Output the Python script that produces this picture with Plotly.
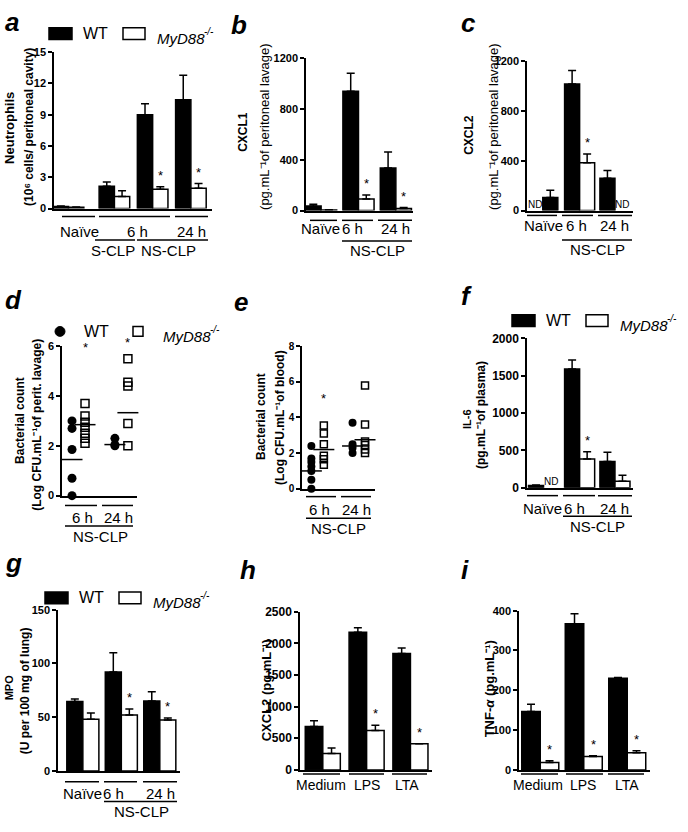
import plotly.graph_objects as go

W, H = 688, 832
FONT = "Liberation Sans, Arial, Helvetica, sans-serif"


def px(x):
    return x / W


def py(y):
    return 1 - y / H


# ---------------- data ----------------
# (a) neutrophils (10^6 cells / peritoneal cavity)
a_cats = ["Naïve", "S-CLP 6 h", "NS-CLP 6 h", "NS-CLP 24 h"]
a_wt = [0.2, 2.15, 9.0, 10.45]
a_wt_err = [0.05, 0.4, 1.05, 2.35]
a_ko = [0.12, 1.15, 1.85, 1.95]
a_ko_err = [0.03, 0.55, 0.25, 0.45]
a_sig = [False, False, True, True]

# (b) CXCL1, peritoneal lavage
b_cats = ["Naïve", "NS-CLP 6 h", "NS-CLP 24 h"]
b_wt = [35, 940, 335]
b_wt_err = [15, 140, 125]
b_ko = [5, 90, 15]
b_ko_err = [2, 32, 8]
b_sig = [False, True, True]

# (c) CXCL2, peritoneal lavage (ND = not detected)
c_cats = ["Naïve", "NS-CLP 6 h", "NS-CLP 24 h"]
c_wt = [None, 1015, 260]
c_wt_err = [0, 110, 62]
c_ko = [105, 383, None]
c_ko_err = [58, 70, 0]
c_sig = [False, True, False]
c_nd_wt = [True, False, False]
c_nd_ko = [False, False, True]

# (d) bacterial count, peritoneal lavage (log CFU/mL)
d_cats = ["6 h", "24 h"]
d_wt = [[3.0, 2.7, 1.85, 0.7, 0.0], [2.3, 2.05, 2.0]]
d_ko = [[3.7, 3.2, 2.95, 2.75, 2.5, 2.3, 2.1], [5.5, 4.55, 4.4, 2.9, 2.0]]
d_wt_mean = [1.45, 2.05]
d_ko_mean = [2.85, 3.33]
d_star = [6.06, 6.25]

# (e) bacterial count, blood (log CFU/mL)
e_cats = ["6 h", "24 h"]
e_wt = [[2.4, 1.7, 1.5, 1.25, 1.0, 0.5, 0.0], [3.7, 2.5, 2.3, 2.0]]
e_ko = [[3.55, 3.1, 2.5, 1.85, 1.65, 1.35], [5.8, 3.6, 2.65, 2.45, 2.2, 2.0]]
e_wt_mean = [1.0, 2.4]
e_ko_mean = [2.2, 2.75]
e_star = [5.24, None]

# (f) IL-6, plasma
f_cats = ["Naïve", "NS-CLP 6 h", "NS-CLP 24 h"]
f_wt = [30, 1590, 350]
f_wt_err = [8, 120, 125]
f_ko = [None, 386, 88]
f_ko_err = [0, 96, 79]
f_sig = [False, True, False]
f_nd_ko = [True, False, False]

# (g) MPO, lung
g_cats = ["Naïve", "NS-CLP 6 h", "NS-CLP 24 h"]
g_wt = [64.5, 92, 65]
g_wt_err = [2.5, 18, 8.7]
g_ko = [48, 52, 47.3]
g_ko_err = [6, 5.5, 2]
g_sig = [False, True, True]

# (h) CXCL2 in vitro
h_cats = ["Medium", "LPS", "LTA"]
h_wt = [685, 2175, 1840]
h_wt_err = [90, 70, 85]
h_ko = [260, 622, 415]
h_ko_err = [88, 85, 0]
h_sig = [False, True, True]

# (i) TNF-alpha in vitro
i_cats = ["Medium", "LPS", "LTA"]
i_wt = [147, 367, 230]
i_wt_err = [18, 25, 2]
i_ko = [19, 34, 43]
i_ko_err = [4, 1.5, 5]
i_sig = [True, True, True]

# ---------------- layout geometry (pixels) ----------------
# box = (x_left, x_right, y_top, y_bottom); pos = group centres in bar-width units
P = {
    "a": dict(k=1, box=(54, 212, 46, 205), ymax=15, dtick=3, pos=[1, 4, 6.5, 9], xr=[0.05, 10.38], tfs=11),
    "b": dict(k=2, box=(306, 413, 52, 207), ymax=1200, dtick=400, pos=[1, 3.4, 5.8], xr=[0.03, 6.9], tfs=11),
    "c": dict(k=3, box=(527, 633, 55, 207), ymax=1200, dtick=400, pos=[1, 3.45, 5.8], xr=[-0.05, 7.0], tfs=11),
    "d": dict(k=4, box=(62, 137, 345, 497), ymax=6, dtick=2, pos=[1.3, 4.6], xr=[0.03, 5.8], tfs=11),
    "e": dict(k=5, box=(302, 375, 345, 490), ymax=8, dtick=2, pos=[1.25, 4.55], xr=[0.0, 5.85], tfs=10),
    "f": dict(k=6, box=(527, 633, 337, 489), ymax=2000, dtick=500, pos=[1.05, 3.45, 5.8], xr=[-0.05, 7.0], tfs=12),
    "g": dict(k=7, box=(58, 180, 613, 777), ymax=150, dtick=50, pos=[1.5, 3.9, 6.3], xr=[-0.05, 7.56], tfs=11),
    "h": dict(k=8, box=(300, 432, 615, 776), ymax=2500, dtick=500, pos=[1.3, 3.8, 6.3], xr=[0.0, 7.53], tfs=12),
    "i": dict(k=9, box=(519, 650, 614, 776), ymax=400, dtick=100, pos=[1.15, 3.5, 5.85], xr=[0.0, 7.08], tfs=11),
}

fig = go.Figure()
axes_layout = {}
annotations = []
shapes = []


def suf(k):
    return "" if k == 1 else str(k)


def make_axes(p):
    k = p["k"]
    x0, x1, yt, yb = p["box"]
    tv = list(range(0, p["ymax"] + 1, p["dtick"]))
    axes_layout["xaxis" + suf(k)] = dict(
        domain=[px(x0), px(x1)], range=p["xr"], anchor="y" + suf(k),
        showline=True, linecolor="black", linewidth=1.5, showticklabels=False,
        ticks="", showgrid=False, zeroline=False, fixedrange=True)
    axes_layout["yaxis" + suf(k)] = dict(
        domain=[py(yb), py(yt)], range=[0, p["ymax"]], anchor="x" + suf(k),
        showline=True, linecolor="black", linewidth=1.5, ticks="outside",
        ticklen=4, tickwidth=1.5, tickcolor="black",
        tickvals=tv, ticktext=["<b>%d</b>" % v for v in tv],
        tickfont=dict(family=FONT, size=p["tfs"], color="black"),
        showgrid=False, zeroline=False, fixedrange=True)
    return "x" + suf(k), "y" + suf(k)


def ebar(err, n):
    return dict(type="data", array=err, arrayminus=[0] * n, symmetric=False,
                color="black", thickness=1.5, width=4)


def bar_panel(key, wt, wt_err, ko, ko_err, sig, ko_colors="white"):
    p = P[key]
    xr, yr = make_axes(p)
    pos = p["pos"]
    fig.add_trace(go.Bar(x=pos, y=wt, width=1, offset=-1, xaxis=xr, yaxis=yr,
                         marker=dict(color="black", line=dict(color="black", width=1.5)),
                         error_y=ebar(wt_err, len(wt)), showlegend=False))
    fig.add_trace(go.Bar(x=pos, y=ko, width=1, offset=0, xaxis=xr, yaxis=yr,
                         marker=dict(color=ko_colors, line=dict(color="black", width=1.5)),
                         error_y=ebar(ko_err, len(ko)), showlegend=False))
    for xp, v, e, s in zip(pos, ko, ko_err, sig):
        if s:
            annotations.append(dict(x=xp + 0.5, y=v + e, xref=xr, yref=yr, text="*",
                                    showarrow=False, yanchor="bottom", yshift=2,
                                    font=dict(family=FONT, size=13, color="black")))
    return xr, yr


def dot_panel(key, wt, ko, wt_mean, ko_mean, star, msize):
    p = P[key]
    xr, yr = make_axes(p)
    pos = p["pos"]
    xs, ys = [], []
    for xp, vals in zip(pos, wt):
        xs += [xp - 0.5] * len(vals)
        ys += vals
    fig.add_trace(go.Scatter(x=xs, y=ys, mode="markers", xaxis=xr, yaxis=yr, cliponaxis=False,
                             marker=dict(symbol="circle", size=msize, color="black"),
                             showlegend=False))
    xs, ys = [], []
    for xp, vals in zip(pos, ko):
        xs += [xp + 0.5] * len(vals)
        ys += vals
    fig.add_trace(go.Scatter(x=xs, y=ys, mode="markers", xaxis=xr, yaxis=yr, cliponaxis=False,
                             marker=dict(symbol="square-open", size=msize - 1, color="black",
                                         line=dict(width=1.5, color="black")),
                             showlegend=False))
    fig.add_trace(go.Scatter(x=[xp - 0.5 for xp in pos], y=wt_mean, mode="markers",
                             xaxis=xr, yaxis=yr, cliponaxis=False,
                             marker=dict(symbol="line-ew", size=15,
                                         line=dict(width=1.5, color="black")),
                             showlegend=False))
    fig.add_trace(go.Scatter(x=[xp + 0.5 for xp in pos], y=ko_mean, mode="markers",
                             xaxis=xr, yaxis=yr, cliponaxis=False,
                             marker=dict(symbol="line-ew", size=15,
                                         line=dict(width=1.5, color="black")),
                             showlegend=False))
    x0, x1, yt, yb = p["box"]
    ppu = (yb - yt) / p["ymax"]  # pixels per data unit
    for xp, s in zip(pos, star):
        if s is not None:
            ya = min(s, p["ymax"])
            annotations.append(dict(x=xp + 0.5, y=ya, xref=xr, yref=yr, text="*",
                                    showarrow=False, yanchor="middle",
                                    yshift=(s - ya) * ppu - 3,
                                    font=dict(family=FONT, size=13, color="black")))
    return xr, yr


def text(t, x, y, size, bold=False, italic=False, angle=0, xanchor="center", yanchor="middle"):
    if bold:
        t = "<b>" + t + "</b>"
    if italic:
        t = "<i>" + t + "</i>"
    annotations.append(dict(
        x=px(x), y=py(y), xref="paper", yref="paper", text=t, showarrow=False,
        textangle=angle, xanchor=xanchor, yanchor=yanchor,
        font=dict(family=FONT, size=size, color="black")))


def hline(x0, x1, y):
    shapes.append(dict(type="line", xref="paper", yref="paper", x0=px(x0), x1=px(x1),
                       y0=py(y), y1=py(y), line=dict(color="black", width=1.5)))


def rect(x0, x1, y0, y1, fill):
    shapes.append(dict(type="rect", xref="paper", yref="paper", x0=px(x0), x1=px(x1),
                       y0=py(y1), y1=py(y0), fillcolor=fill, line=dict(color="black", width=1.5)))


def ko_label(x, y):
    # "MyD88" in italics followed by a small raised "-/-"
    text("MyD88", x, y, 15, italic=True, xanchor="left")
    text("-/-", x + 47, y - 7, 10, italic=True, xanchor="left")


def legend_bars(x, y):
    # x = left of black swatch, y = centre line
    rect(x, x + 23, y - 6, y + 6, "black")
    text("WT", x + 46, y, 16)
    rect(x + 74, x + 96, y - 6, y + 6, "white")
    ko_label(x + 106, y + 5)


# ---------------- panels ----------------
bar_panel("a", a_wt, a_wt_err, a_ko, a_ko_err, a_sig)
bar_panel("b", b_wt, b_wt_err, b_ko, b_ko_err, b_sig)
xc, yc = bar_panel("c", c_wt, c_wt_err, c_ko, c_ko_err, c_sig,
                   ko_colors=["black", "white", "white"])
dot_panel("d", d_wt, d_ko, d_wt_mean, d_ko_mean, d_star, 9)
dot_panel("e", e_wt, e_ko, e_wt_mean, e_ko_mean, e_star, 8)
xf, yf = bar_panel("f", f_wt, f_wt_err, f_ko, f_ko_err, f_sig)
bar_panel("g", g_wt, g_wt_err, g_ko, g_ko_err, g_sig)
bar_panel("h", h_wt, h_wt_err, h_ko, h_ko_err, h_sig)
bar_panel("i", i_wt, i_wt_err, i_ko, i_ko_err, i_sig)


def nd_labels(pos, flags, side, xr, yr):
    for xp, nd in zip(pos, flags):
        if nd:
            annotations.append(dict(x=xp + side, y=0, xref=xr, yref=yr, text="ND",
                                    showarrow=False, yanchor="bottom", yshift=-1,
                                    font=dict(family=FONT, size=10, color="black")))


nd_labels(P["c"]["pos"], c_nd_wt, -0.5, xc, yc)
nd_labels(P["c"]["pos"], c_nd_ko, 0.5, xc, yc)
nd_labels(P["f"]["pos"], f_nd_ko, 0.5, xf, yf)

# panel letters
for lab, x, y in [("a", 3, 15), ("b", 229, 18), ("c", 459, 16), ("d", 3, 298), ("e", 232, 300),
                  ("f", 459, 294), ("g", 3, 566), ("h", 238, 573), ("i", 459, 573)]:
    text(lab, x, y, 26, bold=True, italic=True, xanchor="left")

# legends
legend_bars(49, 27)
legend_bars(512, 319)
legend_bars(45, 601)
shapes.append(dict(type="circle", xref="paper", yref="paper", x0=px(55), x1=px(65),
                   y0=py(335), y1=py(325), fillcolor="black", line=dict(color="black", width=1)))
text("WT", 96, 330, 16)
rect(133, 143, 325, 335, "white")
ko_label(161, 335)

# y-axis titles (unicode superscripts)
SUP6 = "\u2076"
SUPM1 = "\u207b\u00b9"
text("Neutrophils", 10, 123, 13, bold=True, angle=-90)
text("(10" + SUP6 + " cells/ peritoneal cavity)", 29, 122, 12, bold=True, angle=-90)
text("CXCL1", 243, 127, 12, bold=True, angle=-90)
text("(pg.mL" + SUPM1 + "of peritoneal lavage)", 265, 122, 13, angle=-90)
text("CXCL2", 469, 130, 12, bold=True, angle=-90)
text("(pg.mL" + SUPM1 + "of peritoneal lavage)", 494, 122, 13, angle=-90)
text("Bacterial count", 20, 421, 12, bold=True, angle=-90)
text("(Log CFU.mL" + SUPM1 + "of perit. lavage)", 37, 425, 12, bold=True, angle=-90)
text("Bacterial count", 261, 417, 12, bold=True, angle=-90)
text("(Log CFU.mL" + SUPM1 + "of blood)", 280, 418, 12, bold=True, angle=-90)
text("IL-6", 467, 419, 11, bold=True, angle=-90)
text("(pg.mL" + SUPM1 + "of plasma)", 481, 415, 12, bold=True, angle=-90)
text("MPO", 9, 692, 11, bold=True, angle=-90)
text("(U per 100 mg of lung)", 25, 696, 12, bold=True, angle=-90)
text("CXCL2 (pg.mL" + SUPM1 + ")", 266, 695, 13, bold=True, angle=-90)
text("TNF-<i>α</i> (pg.mL" + SUPM1 + ")", 489, 694, 13, bold=True, angle=-90)

# group underlines and labels
CS = 15
# a
for x0, x1 in [(62, 95), (99, 170), (175, 208)]:
    hline(x0, x1, 213)
text("Naïve", 79.5, 228, CS); text("6 h", 137.5, 228, CS); text("24 h", 191, 228, CS)
hline(95, 135, 237); hline(137, 208, 237)
text("S-CLP", 113, 248, CS); text("NS-CLP", 168, 248, CS)
# b
for x0, x1 in [(310, 337), (342, 373), (378, 412)]:
    hline(x0, x1, 217)
text("Naïve", 320, 225, CS); text("6 h", 352, 225, CS); text("24 h", 395, 225, CS)
hline(342, 412, 238)
text("NS-CLP", 377, 248, CS)
# c
for x0, x1 in [(527, 557), (562, 593), (598, 632)]:
    hline(x0, x1, 212)
text("Naïve", 543, 222, CS); text("6 h", 576, 222, CS); text("24 h", 614, 222, CS)
hline(562, 632, 237)
text("NS-CLP", 597, 247, CS)
# d
hline(65, 97, 507); hline(102, 133, 507)
text("6 h", 82, 519, CS); text("24 h", 118, 519, CS)
hline(65, 133, 528)
text("NS-CLP", 100, 539, CS)
# e
hline(306, 336, 498); hline(341, 371, 498)
text("6 h", 319, 511, CS); text("24 h", 356, 511, CS)
hline(306, 371, 520)
text("NS-CLP", 338, 530, CS)
# f
for x0, x1 in [(527, 558), (563, 595), (598, 632)]:
    hline(x0, x1, 497)
text("Naïve", 542, 510, CS); text("6 h", 574, 510, CS); text("24 h", 614, 510, CS)
hline(563, 632, 518)
text("NS-CLP", 597, 528, CS)
# g
for x0, x1 in [(65, 99), (104, 137), (143, 177)]:
    hline(x0, x1, 788)
text("Naïve", 82, 800, CS); text("6 h", 114, 800, CS); text("24 h", 160, 800, CS)
hline(104, 177, 808)
text("NS-CLP", 141, 818, CS)
# h
for x0, x1 in [(303, 340), (349, 384), (392, 427)]:
    hline(x0, x1, 780)
for lab, x in zip(h_cats, [321, 367, 407]):
    text(lab, x, 791, 14)
# i
for x0, x1 in [(521, 558), (566, 603), (608, 644)]:
    hline(x0, x1, 780)
for lab, x in zip(i_cats, [538, 583, 627]):
    text(lab, x, 791, 14)

fig.update_layout(
    width=W, height=H, margin=dict(l=0, r=0, t=0, b=0),
    paper_bgcolor="white", plot_bgcolor="rgba(0,0,0,0)",
    barmode="overlay", showlegend=False,
    font=dict(family=FONT, color="black"),
    annotations=annotations, shapes=shapes,
    **axes_layout,
)

fig.write_html("out.html", config={"displayModeBar": False},
               post_script="document.body.style.margin='0px';")
